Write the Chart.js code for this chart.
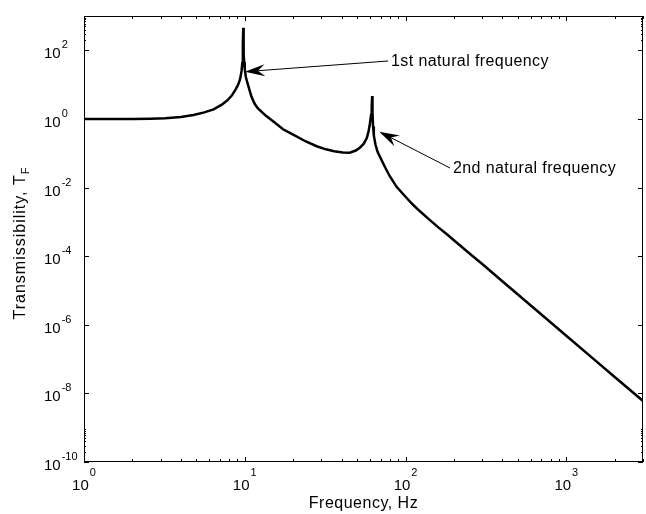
<!DOCTYPE html>
<html>
<head>
<meta charset="utf-8">
<script src="https://cdn.jsdelivr.net/npm/chart.js@4.4.1/dist/chart.umd.min.js"></script>
<style>
  html, body { margin: 0; padding: 0; background: #fff; }
  #wrap { width: 646px; height: 514px; }
</style>
</head>
<body>
<div id="wrap"><canvas id="tf-chart" width="646" height="514"></canvas></div>
<script>
// values (log-log)
const freqHz = [
  1, 2, 2.6, 3.2, 4, 4.8, 5.6, 6.4, 7.2, 7.8, 8.3, 8.7, 9.0, 9.2, 9.4, 9.55, 9.65, 9.71, 9.75, 9.79,
  9.82, 9.86, 9.92, 10.0, 10.15, 10.4, 11.0, 11.5, 12.0, 12.5, 13.5, 15, 17.3, 20, 24, 28, 32, 36,
  40.8, 45, 49, 52, 55, 57.5, 59, 60.1, 61.0, 61.6, 62.0, 62.3, 62.8, 63.5, 65, 67, 69.3, 75, 80,
  88, 100, 111, 122, 140, 160, 180, 200, 250, 300, 400, 500, 700, 1000, 1500, 2000, 3000
];
const transmissibility = [
  1.0, 1.0, 1.01, 1.04, 1.13, 1.3, 1.55, 1.9, 2.6, 3.5, 4.8, 6.8, 9.0, 11.5, 16, 25, 42, 80, 160, 456,
  160, 80, 45, 28, 17, 11, 4.5, 2.8, 2.1, 1.75, 1.25, 0.85, 0.5, 0.35, 0.22, 0.16, 0.13, 0.115,
  0.105, 0.104, 0.12, 0.145, 0.19, 0.28, 0.45, 0.75, 1.3, 2.3, 4.66, 1.5, 0.6, 0.33, 0.18, 0.11, 0.079, 0.037, 0.021,
  0.0105, 0.0054, 0.0032, 0.0021, 0.00118, 0.00069, 0.00044, 0.00029, 0.00012, 0.000059, 0.0000186, 0.0000076, 0.000002, 0.00000048, 0.000000095, 0.00000003, 0.000000006
];
const xMajorTicks = [1, 10, 100, 1000];
const yMajorTicks = [1e-10, 1e-8, 1e-6, 1e-4, 1e-2, 1, 1e2];
const xRange = [1, 3000];
const yRange = [1e-10, 1e3];

// annotation arrows, anchored in data coordinates
const arrows = [
  { text: '1st natural frequency', tip: [10.03, 23.8], tail: [77.8, 48.8] },
  { text: '2nd natural frequency', tip: [68.7, 0.425], tail: [189, 0.0371] }
];

const FONT = '"Liberation Sans", Arial, sans-serif';

function minorTicks(min, max) {
  const out = [];
  for (let d = Math.floor(Math.log10(min)); d <= Math.ceil(Math.log10(max)); d++) {
    for (let k = 2; k <= 9; k++) {
      const v = k * Math.pow(10, d);
      if (v > min && v <= max) out.push(v);
    }
  }
  return out;
}

function expLabel(v) {
  return String(Math.round(Math.log10(v)));
}

const matlabAxes = {
  id: 'matlabAxes',
  afterDraw(chart) {
    const { ctx, chartArea: a, scales: { x, y } } = chart;
    ctx.save();
    ctx.strokeStyle = '#000';
    ctx.fillStyle = '#000';
    ctx.lineWidth = 1;
    ctx.strokeRect(a.left + 0.5, a.top + 0.5, a.right - a.left - 1, a.bottom - a.top - 1);

    // x ticks, bottom and top, pointing inward
    ctx.beginPath();
    xMajorTicks.forEach(v => {
      const px = Math.round(x.getPixelForValue(v)) + 0.5;
      ctx.moveTo(px, a.bottom); ctx.lineTo(px, a.bottom - 5);
      ctx.moveTo(px, a.top); ctx.lineTo(px, a.top + 5);
    });
    minorTicks(xRange[0], xRange[1]).forEach(v => {
      const px = Math.round(x.getPixelForValue(v)) + 0.5;
      ctx.moveTo(px, a.bottom); ctx.lineTo(px, a.bottom - 3);
      ctx.moveTo(px, a.top); ctx.lineTo(px, a.top + 3);
    });
    // y ticks, left and right
    yMajorTicks.forEach(v => {
      const py = Math.round(y.getPixelForValue(v)) + 0.5;
      ctx.moveTo(a.left, py); ctx.lineTo(a.left + 5, py);
      ctx.moveTo(a.right, py); ctx.lineTo(a.right - 5, py);
    });
    minorTicks(yRange[0], yRange[1])
      .filter(v => v < 1e-9 || v > 1e2)
      .forEach(v => {
        const py = Math.round(y.getPixelForValue(v)) + 0.5;
        ctx.moveTo(a.left, py); ctx.lineTo(a.left + 2, py);
        ctx.moveTo(a.right, py); ctx.lineTo(a.right - 2, py);
      });
    ctx.stroke();

    // tick labels 10^n
    ctx.textBaseline = 'alphabetic';
    xMajorTicks.forEach(v => {
      const px = x.getPixelForValue(v);
      ctx.font = '15px ' + FONT;
      const wb = ctx.measureText('10').width;
      ctx.font = '11px ' + FONT;
      const we = ctx.measureText(expLabel(v)).width;
      const left = px - (wb + we + 1) / 2;
      ctx.textAlign = 'left';
      ctx.font = '15px ' + FONT;
      ctx.fillText('10', left, a.bottom + 28);
      ctx.font = '11px ' + FONT;
      ctx.fillText(expLabel(v), left + wb + 1, a.bottom + 14);
    });
    yMajorTicks.forEach(v => {
      const py = y.getPixelForValue(v);
      ctx.textAlign = 'left';
      ctx.font = '15px ' + FONT;
      ctx.fillText('10', 44, py + 8);
      const wb = ctx.measureText('10').width;
      ctx.font = '11px ' + FONT;
      ctx.fillText(expLabel(v), 44 + wb + 1, py - 2);
    });

    // axis titles
    ctx.letterSpacing = '0.5px';
    ctx.font = '16px ' + FONT;
    ctx.textAlign = 'center';
    ctx.fillText('Frequency, Hz', (a.left + a.right) / 2, 508);

    ctx.save();
    ctx.translate(25, (a.top + a.bottom) / 2 + 4);
    ctx.rotate(-Math.PI / 2);
    const main = 'Transmissibility, T';
    ctx.font = '16px ' + FONT;
    ctx.letterSpacing = '1px';
    const wm = ctx.measureText(main).width;
    ctx.font = '11px ' + FONT;
    const ws = ctx.measureText('F').width;
    const start = -(wm + ws) / 2;
    ctx.textAlign = 'left';
    ctx.font = '16px ' + FONT;
    ctx.fillText(main, start, 0);
    ctx.font = '11px ' + FONT;
    ctx.fillText('F', start + wm, 4);
    ctx.restore();

    // arrows with notched heads
    ctx.letterSpacing = '0.4px';
    arrows.forEach(ar => {
      const tx = x.getPixelForValue(ar.tip[0]), ty = y.getPixelForValue(ar.tip[1]);
      const sx = x.getPixelForValue(ar.tail[0]), sy = y.getPixelForValue(ar.tail[1]);
      const len = Math.hypot(sx - tx, sy - ty);
      const ux = (sx - tx) / len, uy = (sy - ty) / len;
      const nx = -uy, ny = ux;
      ctx.lineWidth = 1;
      ctx.beginPath();
      ctx.moveTo(sx, sy);
      ctx.lineTo(tx + ux * 12, ty + uy * 12);
      ctx.stroke();
      ctx.beginPath();
      ctx.moveTo(tx, ty);
      ctx.lineTo(tx + ux * 20 + nx * 6, ty + uy * 20 + ny * 6);
      ctx.lineTo(tx + ux * 13, ty + uy * 13);
      ctx.lineTo(tx + ux * 20 - nx * 6, ty + uy * 20 - ny * 6);
      ctx.closePath();
      ctx.fill();
      ctx.font = '16px ' + FONT;
      ctx.textAlign = 'left';
      ctx.textBaseline = 'middle';
      ctx.fillText(ar.text, sx + 3, sy + 1);
      ctx.textBaseline = 'alphabetic';
    });
    ctx.restore();
  }
};

const points = freqHz.map((f, i) => ({ x: f, y: transmissibility[i] }));

new Chart(document.getElementById('tf-chart'), {
  type: 'line',
  data: {
    datasets: [{
      data: points,
      borderColor: '#000',
      borderWidth: 2.5,
      pointRadius: 0,
      tension: 0,
      fill: false
    }]
  },
  options: {
    responsive: false,
    animation: false,
    layout: { padding: { top: 16, right: 3, left: 0, bottom: 0 } },
    plugins: { legend: { display: false }, tooltip: { enabled: false } },
    scales: {
      x: {
        type: 'logarithmic',
        min: xRange[0],
        max: xRange[1],
        grid: { display: false },
        border: { display: false },
        ticks: { display: false },
        afterFit(scale) { scale.height = 52; }
      },
      y: {
        type: 'logarithmic',
        min: yRange[0],
        max: yRange[1],
        grid: { display: false },
        border: { display: false },
        ticks: { display: false },
        afterFit(scale) { scale.width = 84; }
      }
    }
  },
  plugins: [matlabAxes]
});
</script>
</body>
</html>
